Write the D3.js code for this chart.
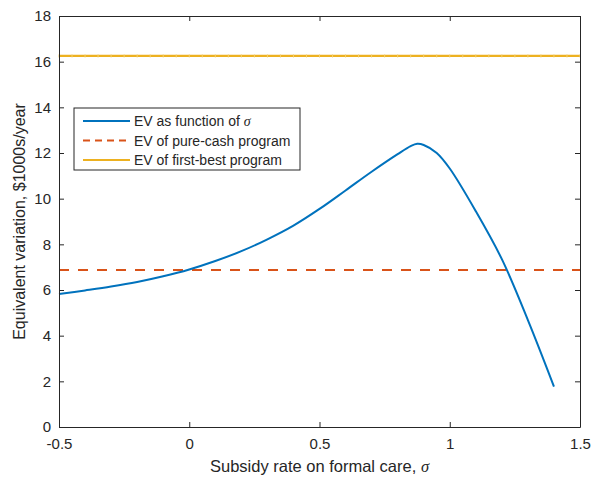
<!DOCTYPE html>
<html>
<head>
<meta charset="UTF-8">
<script src="https://cdn.jsdelivr.net/npm/d3@7"></script>
<style>
  body { margin: 0; background: #fff; }
  text { font-family: "Liberation Sans", Arial, Helvetica, sans-serif; fill: #262626; }
  .axis path, .axis line { stroke: #262626; }
  .axis text { font-size: 15px; }
</style>
</head>
<body>
<div id="chart"></div>
<script>
// data
var sigma = [-0.5, -0.4, -0.3, -0.2, -0.1, 0, 0.1, 0.2, 0.3, 0.4, 0.5, 0.6, 0.7, 0.8, 0.85, 0.875, 0.9, 0.95, 1.0, 1.1, 1.2, 1.3, 1.4];
var evSigma = [5.82, 5.98, 6.15, 6.35, 6.60, 6.90, 7.27, 7.70, 8.22, 8.82, 9.55, 10.36, 11.18, 11.95, 12.30, 12.40, 12.35, 12.00, 11.32, 9.45, 7.35, 4.68, 1.77];
var evCash = 6.88;
var evFirstBest = 16.25;
var xTicks = [-0.5, 0, 0.5, 1, 1.5];
var yTicks = [0, 2, 4, 6, 8, 10, 12, 14, 16, 18];
var legendNames = ["EV as function of ", "EV of pure-cash program", "EV of first-best program"];

var W = 592, H = 479;
var mLeft = 59, mRight = 580, mTop = 16, mBottom = 427;

var x = d3.scaleLinear().domain([-0.5, 1.5]).range([mLeft, mRight]);
var y = d3.scaleLinear().domain([0, 18]).range([mBottom, mTop]);

var svg = d3.select("#chart").append("svg")
  .attr("width", W).attr("height", H);

// lines
var line = d3.line()
  .x(function(d, i){ return x(sigma[i]); })
  .y(function(d){ return y(d); })
  .curve(d3.curveCatmullRom.alpha(0.5));

svg.append("line")
  .attr("x1", x(-0.5)).attr("x2", x(1.5))
  .attr("y1", y(evFirstBest)).attr("y2", y(evFirstBest))
  .attr("stroke", "#EDB120").attr("stroke-width", 2.2);

// small markers on the first-best line
var markers = d3.range(-0.5, 1.5001, 0.05);
svg.selectAll(".mk").data(markers).enter().append("line")
  .attr("class", "mk")
  .attr("x1", function(d){ return x(d); }).attr("x2", function(d){ return x(d); })
  .attr("y1", y(evFirstBest) - 1.5).attr("y2", y(evFirstBest) + 1.5)
  .attr("stroke", "#f3cf6e").attr("stroke-width", 1);

svg.append("line")
  .attr("x1", x(-0.5)).attr("x2", x(1.5))
  .attr("y1", y(evCash)).attr("y2", y(evCash))
  .attr("stroke", "#D95319").attr("stroke-width", 2)
  .attr("stroke-dasharray", "10,9");

svg.append("path")
  .attr("d", line(evSigma))
  .attr("fill", "none")
  .attr("stroke", "#0072BD").attr("stroke-width", 2);

// axes (ticks inside, box on)
svg.append("g").attr("class", "axis")
  .attr("transform", "translate(0," + mBottom + ")")
  .call(d3.axisBottom(x).tickValues(xTicks).tickSizeInner(-5).tickSizeOuter(0).tickPadding(11)
    .tickFormat(function(d){ return d; }));
svg.append("g").attr("class", "axis")
  .attr("transform", "translate(0," + mTop + ")")
  .call(d3.axisTop(x).tickValues(xTicks).tickSizeInner(-5).tickSizeOuter(0).tickFormat(""));
svg.append("g").attr("class", "axis")
  .attr("transform", "translate(" + mLeft + ",0)")
  .call(d3.axisLeft(y).tickValues(yTicks).tickSizeInner(-5).tickSizeOuter(0).tickPadding(8));
svg.append("g").attr("class", "axis")
  .attr("transform", "translate(" + mRight + ",0)")
  .call(d3.axisRight(y).tickValues(yTicks).tickSizeInner(-5).tickSizeOuter(0).tickFormat(""));

// axis labels
var xl = svg.append("text")
  .attr("x", (mLeft + mRight) / 2).attr("y", 472)
  .attr("text-anchor", "middle").style("font-size", "16.5px");
xl.append("tspan").text("Subsidy rate on formal care, ");
xl.append("tspan").text("σ").style("font-family", "'Liberation Serif', 'Times New Roman', serif").style("font-style", "italic");

svg.append("text")
  .attr("transform", "translate(25," + ((mTop + mBottom) / 2) + ") rotate(-90)")
  .attr("text-anchor", "middle").style("font-size", "16px")
  .text("Equivalent variation, $1000s/year");

// legend
var lg = svg.append("g");
lg.append("rect")
  .attr("x", 74).attr("y", 108).attr("width", 226).attr("height", 62)
  .attr("fill", "#fff").attr("stroke", "#262626").attr("stroke-width", 1);
var legendColors = ["#0072BD", "#D95319", "#EDB120"];
var legendDash = [null, "7,5", null];
legendNames.forEach(function(name, i){
  var ly = 121 + i * 19.5;
  lg.append("line")
    .attr("x1", 83).attr("x2", 130).attr("y1", ly).attr("y2", ly)
    .attr("stroke", legendColors[i]).attr("stroke-width", 2)
    .attr("stroke-dasharray", legendDash[i]);
  var t = lg.append("text").attr("x", 134).attr("y", ly + 5).style("font-size", "14px");
  t.append("tspan").text(name);
  if (i === 0) {
    t.append("tspan").text("σ").style("font-family", "'Liberation Serif', 'Times New Roman', serif").style("font-style", "italic");
  }
});
</script>
</body>
</html>
